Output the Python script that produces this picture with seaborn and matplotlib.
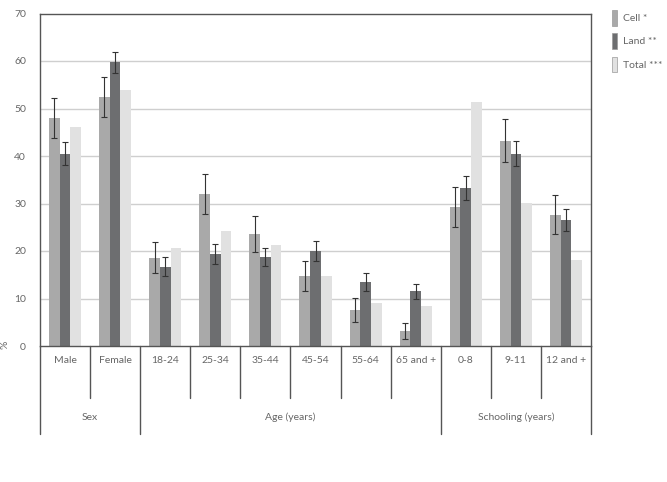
import matplotlib
matplotlib.use("Agg")
import matplotlib.pyplot as plt
import seaborn as sns
import pandas as pd
import numpy as np

categories = ["Male", "Female", "18-24", "25-34", "35-44", "45-54", "55-64",
              "65 and +", "0-8", "9-11", "12 and +"]
groups = ["Sex", "Age (years)", "Schooling (years)"]
group_sizes = [2, 6, 3]
series = ["Cell *", "Land **", "Total ***"]

cell = [48.0, 52.4, 18.6, 32.0, 23.5, 14.8, 7.6, 3.2, 29.2, 43.2, 27.6]
land = [40.5, 59.7, 16.7, 19.3, 18.8, 20.0, 13.4, 11.5, 33.2, 40.5, 26.5]
total = [46.1, 54.0, 20.7, 24.2, 21.2, 14.8, 9.1, 8.4, 51.4, 30.2, 18.1]
cell_err = [4.2, 4.2, 3.2, 4.2, 3.8, 3.2, 2.5, 1.7, 4.2, 4.5, 4.1]
land_err = [2.4, 2.3, 2.0, 2.1, 1.9, 2.1, 1.9, 1.6, 2.5, 2.6, 2.25]

colors = ["#a9a9a9", "#6d6e70", "#e1e1e1"]
text_color = "#666666"
frame_color = "#555555"
fs = 7.5

df = pd.DataFrame({
    "category": categories * 3,
    "series": sum([[s] * len(categories) for s in series], []),
    "value": cell + land + total,
})

sns.set_theme(style="white")
plt.rcParams["font.family"] = ["Lato", "DejaVu Sans"]

fig = plt.figure(figsize=(6.67, 4.82), dpi=100)
ax = fig.add_axes([40 / 667, 1 - 346 / 482, 551 / 667, 332.5 / 482])

sns.barplot(data=df, x="category", y="value", hue="series", order=categories,
            hue_order=series, palette=colors, width=0.64, errorbar=None,
            saturation=1, linewidth=0, ax=ax)

# error bars for Cell and Land
n = len(categories)
patches = list(ax.patches)[:n * 3]
for k, errs in enumerate([cell_err, land_err]):
    bars = patches[k * n:(k + 1) * n]
    xs = [b.get_x() + b.get_width() / 2 for b in bars]
    ys = [b.get_height() for b in bars]
    ax.errorbar(xs, ys, yerr=errs, fmt="none", ecolor="#333333",
                elinewidth=0.8, capsize=2, capthick=0.8, zorder=5)

ax.set_xlim(-0.5, n - 0.5)
ax.set_ylim(0, 70)
ax.set_yticks(range(0, 71, 10))
ax.set_yticklabels([str(v) for v in range(0, 71, 10)], color=text_color, fontsize=fs)
ax.tick_params(axis="y", length=0, pad=10)
ax.set_xticks([])
ax.set_xlabel("")
ax.set_ylabel("")

for v in range(10, 70, 10):
    ax.axhline(v, color="#cfcfcf", linewidth=1, zorder=0)

for side in ["top", "left", "right", "bottom"]:
    ax.spines[side].set_visible(True)
    ax.spines[side].set_color(frame_color)
    ax.spines[side].set_linewidth(1)

trans = ax.get_xaxis_transform()
for i, c in enumerate(categories):
    ax.text(i, -0.044, c, transform=trans, ha="center", va="center",
            color=text_color, fontsize=fs)

boundaries = np.cumsum([0] + group_sizes) - 0.5
for b in range(n + 1):
    xb = b - 0.5
    low = -0.265 if np.any(np.isclose(boundaries, xb)) else -0.156
    ax.plot([xb, xb], [0, low], transform=trans, color=frame_color,
            linewidth=1, clip_on=False)

for g, (start, size) in enumerate(zip(boundaries[:-1], group_sizes)):
    ax.text(start + size / 2, -0.214, groups[g], transform=trans, ha="center",
            va="center", color=text_color, fontsize=fs)

handles, labels = ax.get_legend_handles_labels()
if ax.get_legend() is not None:
    ax.get_legend().remove()
for h in handles:
    h.set_edgecolor("#999999")
    h.set_linewidth(0.5)
fig.legend(handles, labels, loc="upper left", bbox_to_anchor=(608 / 667, 1 - 6 / 482),
           frameon=False, handlelength=0.5, handleheight=1.9, handletextpad=0.55,
           labelspacing=0.75, fontsize=fs, labelcolor=text_color, borderaxespad=0)

fig.text(0.001, 1 - 345 / 482, "%", rotation=90, ha="left", va="center",
         color=text_color, fontsize=fs)

fig.savefig("out.png", dpi=100)
